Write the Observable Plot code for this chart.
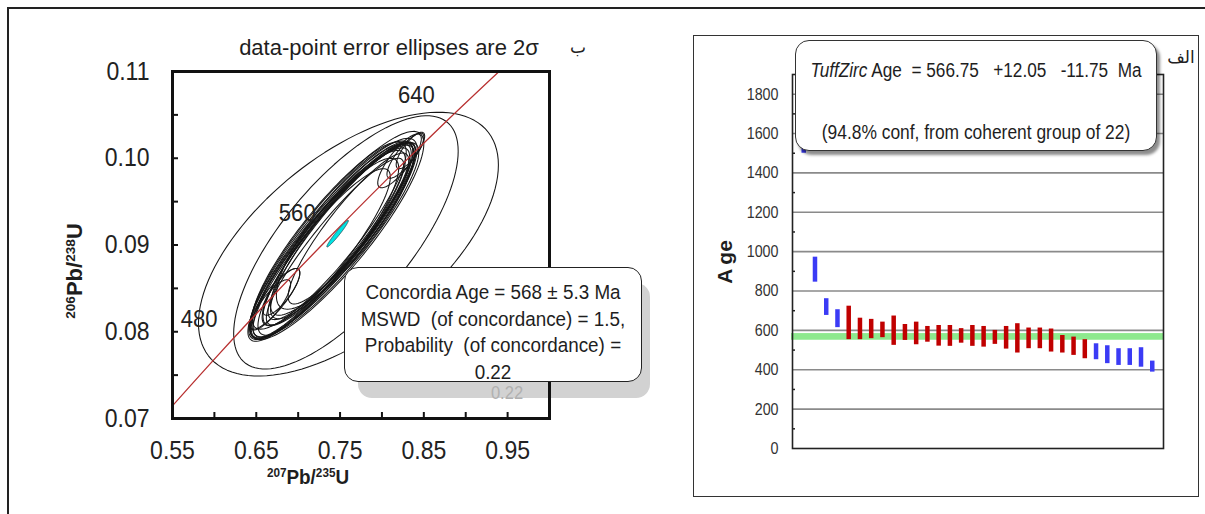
<!DOCTYPE html>
<html><head><meta charset="utf-8">
<script src="https://cdn.jsdelivr.net/npm/d3@7"></script>
<script src="https://cdn.jsdelivr.net/npm/@observablehq/plot@0.6"></script>
<style>
body{margin:0;background:#fff;}
#wrap{position:relative;width:1205px;height:514px;overflow:hidden;background:#fff;
  font-family:"Liberation Sans",Arial,sans-serif;color:#1e1e1e;}
.abs{position:absolute;}
.c{position:absolute;transform:translate(-50%,-50%);white-space:nowrap;}
#outer{left:7px;top:7px;width:1400px;height:800px;border:2px solid #222;}
#leftplot{left:0;top:0;z-index:2;}
#rightpanel{left:693px;top:35px;width:506px;height:462px;border:1.5px solid #333;box-sizing:border-box;}
#rightplot{left:694px;top:36px;z-index:2;}
#cshadow{left:358px;top:283px;width:292px;height:115px;background:#d2d2d2;border-radius:14px;z-index:1;}
#cbox{left:344px;top:267px;width:298px;height:115px;box-sizing:border-box;border:1.6px solid #222;border-radius:14px;background:#fff;z-index:3;font-size:20.5px;text-align:center;line-height:26.5px;padding-top:11px;}
#cbox div{transform:scaleX(0.92);white-space:nowrap;}
#tbox{left:795px;top:40px;width:362px;height:111px;box-sizing:border-box;border:1.6px solid #333;border-radius:14px;background:#fff;z-index:3;box-shadow:3px 4px 3px rgba(0,0,0,0.45);font-size:20px;text-align:center;}
sup{font-size:62%;vertical-align:0.55em;line-height:0;}
.ar{font-family:"DejaVu Sans",sans-serif;font-size:17px;color:#222;z-index:4;}
</style></head>
<body><div id="wrap">
<div id="outer" class="abs"></div>
<div id="cshadow" class="abs"><div class="c" style="left:149px;top:110px;color:#b0b0b0;font-size:18px;transform:translate(-50%,-50%) scaleX(0.92);">0.22</div></div>
<div id="leftplot" class="abs"></div>
<div id="rightpanel" class="abs"></div>
<div id="rightplot" class="abs"></div>
<div class="c" style="left:389px;top:48px;font-size:22px;z-index:4;">data-point error ellipses are 2σ</div>
<div class="c ar" style="left:578px;top:47px;">ب</div>
<div class="c" style="left:75px;top:271px;transform:translate(-50%,-50%) rotate(-90deg);font-weight:bold;font-size:22px;z-index:4;"><sup>206</sup>Pb/<sup>238</sup>U</div>
<div class="c" style="left:308px;top:477px;font-weight:bold;font-size:21px;z-index:4;transform:translate(-50%,-50%) scaleX(0.9);"><sup>207</sup>Pb/<sup>235</sup>U</div>
<div id="cbox" class="abs">
  <div>Concordia Age = 568 ± 5.3 Ma</div>
  <div>MSWD&nbsp; (of concordance) = 1.5,</div>
  <div>Probability&nbsp; (of concordance) =</div>
  <div>0.22</div>
</div>
<div id="tbox" class="abs">
  <div class="c" style="left:50%;top:29px;white-space:pre;transform:translate(-50%,-50%) scaleX(0.86);"><i>TuffZirc</i> Age  = 566.75   +12.05   -11.75  Ma</div>
  <div class="c" style="left:50%;top:91px;white-space:pre;transform:translate(-50%,-50%) scaleX(0.87);">(94.8% conf, from coherent group of 22)</div>
</div>
<div class="c ar" style="left:1181px;top:57px;">الف</div>
<div class="c" style="left:725px;top:262px;transform:translate(-50%,-50%) rotate(-90deg);font-weight:bold;font-size:21px;z-index:4;"><span style="letter-spacing:4px">A</span>ge</div>
</div>
<script>
// ---------- Left panel: concordia diagram ----------
const xDomain = [0.55, 1.0];
const yDomain = [0.07, 0.11];
const xTicks = [0.55, 0.65, 0.75, 0.85, 0.95];
const yTicks = [0.07, 0.08, 0.09, 0.10, 0.11];
const xMinorTicks = [0.60, 0.65, 0.70, 0.75, 0.80, 0.85, 0.90, 0.95];
const yMinorTicks = [0.075, 0.08, 0.085, 0.09, 0.095, 0.10, 0.105];

// concordia curve points (age Ma, 207Pb/235U, 206Pb/238U)
const concAge = [440, 480, 520, 560, 600, 640, 680];
const conc207 = [0.5424, 0.6044, 0.6688, 0.7359, 0.8056, 0.8782, 0.9536];
const conc206 = [0.07064, 0.07730, 0.08401, 0.09075, 0.09754, 0.10438, 0.11125];
const ageLabels = [480, 560, 640];

// data-point error ellipses: centre, 2-sigma half extents, error correlation
const ellX   = [0.760, 0.757, 0.742, 0.748, 0.737, 0.747, 0.739, 0.753, 0.744, 0.751, 0.734, 0.746, 0.756, 0.732, 0.672, 0.667, 0.680, 0.828, 0.821, 0.834, 0.760, 0.728, 0.743, 0.749, 0.738, 0.752];
const ellY   = [0.0901, 0.0903, 0.0908, 0.0907, 0.0911, 0.0912, 0.0905, 0.0915, 0.0904, 0.0918, 0.0899, 0.0911, 0.0923, 0.0896, 0.0838, 0.0831, 0.0846, 0.1003, 0.0997, 0.1009, 0.0919, 0.0891, 0.0906, 0.0913, 0.0902, 0.0916];
const ellSX  = [0.179, 0.134, 0.100, 0.096, 0.092, 0.090, 0.098, 0.086, 0.082, 0.084, 0.094, 0.104, 0.082, 0.088, 0.030, 0.024, 0.022, 0.022, 0.026, 0.017, 0.072, 0.082, 0.097, 0.091, 0.095, 0.088];
const ellSY  = [0.0152, 0.0146, 0.0115, 0.0111, 0.0108, 0.0105, 0.0114, 0.0100, 0.0096, 0.0099, 0.0110, 0.0120, 0.0097, 0.0104, 0.0035, 0.0029, 0.0027, 0.0026, 0.0031, 0.0021, 0.0087, 0.0097, 0.0112, 0.0106, 0.0110, 0.0102];
const ellRho = [0.60, 0.72, 0.89, 0.90, 0.89, 0.91, 0.90, 0.89, 0.92, 0.88, 0.90, 0.88, 0.84, 0.89, 0.85, 0.82, 0.80, 0.82, 0.82, 0.78, 0.90, 0.90, 0.90, 0.90, 0.91, 0.91];

// concordia-age ellipse (filled)
const cAgeX = [0.747], cAgeY = [0.0913], cAgeSX = [0.0128], cAgeSY = [0.00153], cAgeRho = [0.97];

// ---------- Right panel: TuffZirc age ranking ----------
const ageTicks = [0, 200, 400, 600, 800, 1000, 1200, 1400, 1600, 1800];
const ageMinorTicks = [100, 300, 500, 700, 900, 1100, 1300, 1500, 1700];
const ageDomain = [0, 1900];
const barLow  = [1500, 845, 676, 614, 553, 553, 558, 563, 524, 549, 527, 540, 520, 519, 535, 519, 515, 529, 505, 485, 507, 507, 490, 485, 473, 456, 451, 431, 422, 422, 413, 388];
const barHigh = [1640, 972, 761, 705, 723, 662, 656, 642, 673, 630, 642, 620, 625, 625, 609, 625, 620, 600, 620, 634, 612, 612, 607, 574, 566, 553, 532, 522, 507, 507, 512, 444];
const barInGroup = [0,0,0,0,1,1,1,1,1,1,1,1,1,1,1,1,1,1,1,1,1,1,1,1,1,1,0,0,0,0,0,0];
const tuffAge = 566.75, tuffPlus = 12.05, tuffMinus = 11.75;

const FONT = '"Liberation Sans",Arial,sans-serif';

function ellipsePoints(cx, cy, sx, sy, rho, id) {
  const pts = [];
  const n = 120, s = Math.sqrt(1 - rho * rho);
  for (let k = 0; k <= n; k++) {
    const t = 2 * Math.PI * k / n;
    pts.push({id, x: cx + sx * Math.cos(t), y: cy + sy * (rho * Math.cos(t) + s * Math.sin(t))});
  }
  return pts;
}
function condense(svg, f) {
  svg.querySelectorAll("text").forEach(t => {
    const w = t.getComputedTextLength();
    if (w > 0) { t.setAttribute("textLength", (w * f).toFixed(1)); t.setAttribute("lengthAdjust", "spacingAndGlyphs"); }
  });
}
const ellipseRows = ellX.flatMap((cx, i) => ellipsePoints(cx, ellY[i], ellSX[i], ellSY[i], ellRho[i], i));
const cAgeRows = cAgeX.flatMap((cx, i) => ellipsePoints(cx, cAgeY[i], cAgeSX[i], cAgeSY[i], cAgeRho[i], i));
const concRows = concAge.map((a, i) => ({age: a, x: conc207[i], y: conc206[i]}));
const labelRows = concRows.filter(d => ageLabels.includes(d.age));

const xTickLen = (xDomain[1] - xDomain[0]) * 6 / 377;
const yTickLen = (yDomain[1] - yDomain[0]) * 6 / 347;

const leftChart = Plot.plot({
  width: 660, height: 514,
  marginLeft: 172, marginRight: 111, marginTop: 71, marginBottom: 96,
  style: {fontFamily: FONT, fontSize: "25px", color: "#222", background: "transparent", overflow: "visible"},
  x: {domain: xDomain, ticks: xTicks, tickSize: 0, tickPadding: 23, tickFormat: d3.format(".2f"), label: null},
  y: {domain: yDomain, ticks: yTicks, tickSize: 0, tickPadding: 23, tickFormat: d3.format(".2f"), label: null},
  marks: [
    Plot.line(ellipseRows, {x: "x", y: "y", z: "id", stroke: "#151515", strokeWidth: 1.05}),
    Plot.line(concRows, {x: "x", y: "y", stroke: "#b83030", strokeWidth: 1.3, curve: "catmull-rom", clip: true}),
    Plot.line(cAgeRows, {x: "x", y: "y", z: "id", fill: "#00e2e2", stroke: "#2b4b55", strokeWidth: 0.8}),
    Plot.text(labelRows.filter(d => d.age !== 480), {x: "x", y: "y", text: d => String(d.age), dx: -31, dy: -25, fontSize: 24}),
    Plot.text(labelRows.filter(d => d.age === 480), {x: "x", y: "y", text: d => String(d.age), dx: -19, dy: -36, fontSize: 24}),
    Plot.ruleY(yMinorTicks, {y: d => d, x1: xDomain[0], x2: xDomain[0] + xTickLen, stroke: "#111", strokeWidth: 2}),
    Plot.ruleX(xMinorTicks, {x: d => d, y1: yDomain[0], y2: yDomain[0] + yTickLen, stroke: "#111", strokeWidth: 2}),
    Plot.frame({stroke: "#111", strokeWidth: 3})
  ]
});
document.getElementById("leftplot").appendChild(leftChart);
condense(leftChart, 0.92);

const bars = barLow.map((lo, i) => ({i: i + 1, lo, hi: barHigh[i], inGroup: barInGroup[i] === 1}));
const xBarDomain = [0, bars.length + 1];
const minorLen = (xBarDomain[1] - xBarDomain[0]) * 3 / 370;

const rightChart = Plot.plot({
  width: 504, height: 460,
  marginLeft: 98, marginRight: 35, marginTop: 38, marginBottom: 48,
  style: {fontFamily: FONT, fontSize: "17px", color: "#333", background: "transparent"},
  x: {domain: xBarDomain, axis: null},
  y: {domain: ageDomain, ticks: ageTicks, tickSize: 0, tickPadding: 14, tickFormat: d3.format("d"), label: null},
  marks: [
    Plot.ruleY(ageTicks.filter(d => d > 0), {y: d => d, stroke: "#8a8a8a", strokeWidth: 1.6}),
    Plot.rect([{lo: tuffAge - tuffMinus, hi: tuffAge + tuffPlus}], {x1: xBarDomain[0], x2: xBarDomain[1], y1: "lo", y2: "hi", fill: "#8ee98e", stroke: "#8ee98e", strokeWidth: 2}),
    Plot.ruleX(bars.filter(d => !d.inGroup), {x: "i", y1: "lo", y2: "hi", stroke: "#3b3bf5", strokeWidth: 4.5}),
    Plot.ruleX(bars.filter(d => d.inGroup), {x: "i", y1: "lo", y2: "hi", stroke: "#c00000", strokeWidth: 4.5}),
    Plot.ruleY(ageMinorTicks, {y: d => d, x1: xBarDomain[0], x2: xBarDomain[0] + minorLen, stroke: "#222", strokeWidth: 1.5}),
    Plot.frame({stroke: "#222", strokeWidth: 1.6})
  ]
});
document.getElementById("rightplot").appendChild(rightChart);
condense(rightChart, 0.84);
</script>
</body></html>
